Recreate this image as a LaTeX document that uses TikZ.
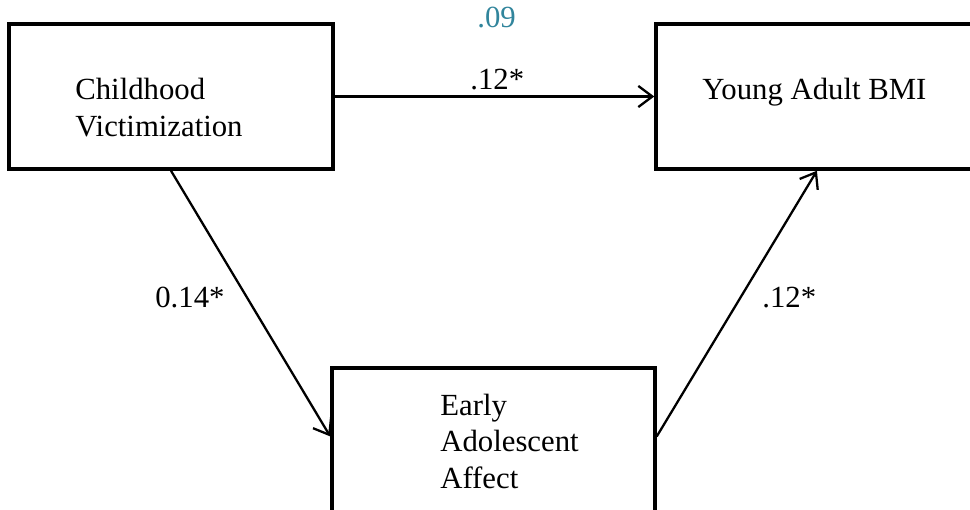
\documentclass[tikz,border=0pt]{standalone}
\usepackage{fontspec}
\setmainfont{Liberation Serif}
\usepackage{tikz}
\usetikzlibrary{arrows.meta, calc}
\definecolor{pathteal}{HTML}{31859C}

\begin{document}
\begin{tikzpicture}[
    x=0.02cm, y=-0.02cm,
    every node/.style={font=\fontsize{17.5pt}{20.5pt}\selectfont},
    var/.style={rectangle, draw=black, line width=2pt, inner sep=0pt},
    txt/.style={anchor=base west, align=left, inner sep=0pt},
    coef/.style={anchor=base west, inner sep=0pt},
    arrow/.style={-{Straight Barb[length=8pt, width=12pt]}, line width=1.3pt}
]
\useasboundingbox (0,0) rectangle (970,510);
\clip (0,0) rectangle (970,510);

% Variables
\node[var, minimum width=6.48cm, minimum height=2.9cm] (vict) at (171,96.5) {};
\node[var, minimum width=6.68cm, minimum height=2.9cm] (bmi) at (823,96.5) {};
\node[var, minimum width=6.46cm, minimum height=3.44cm] (affect) at (493.5,454) {};

% (base anchor sits on the last line)
\node[txt] (victtxt) at (75,136) {Childhood\\Victimization};
\node[txt] (bmitxt) at (702,100) {Young Adult BMI};
\node[txt] (affecttxt) at (440,488) {Early\\Adolescent\\Affect};

% Paths
\draw[arrow] (vict) -- (bmi);
\draw[arrow] (vict.south) -- ($(affect.north west)!0.4!(affect.south west)$);
\draw[arrow] ($(affect.north east)!0.4!(affect.south east)$)
    -- ($(bmi.south west)!0.482!(bmi.south east)$);

% Coefficients
\node[coef, color=pathteal] (direct) at (477,28) {.09};
\node[coef] (total) at (470,90) {.12*};
\node[coef] (apath) at (155,307) {0.14*};
\node[coef] (bpath) at (762,307) {.12*};

\end{tikzpicture}
\end{document}
